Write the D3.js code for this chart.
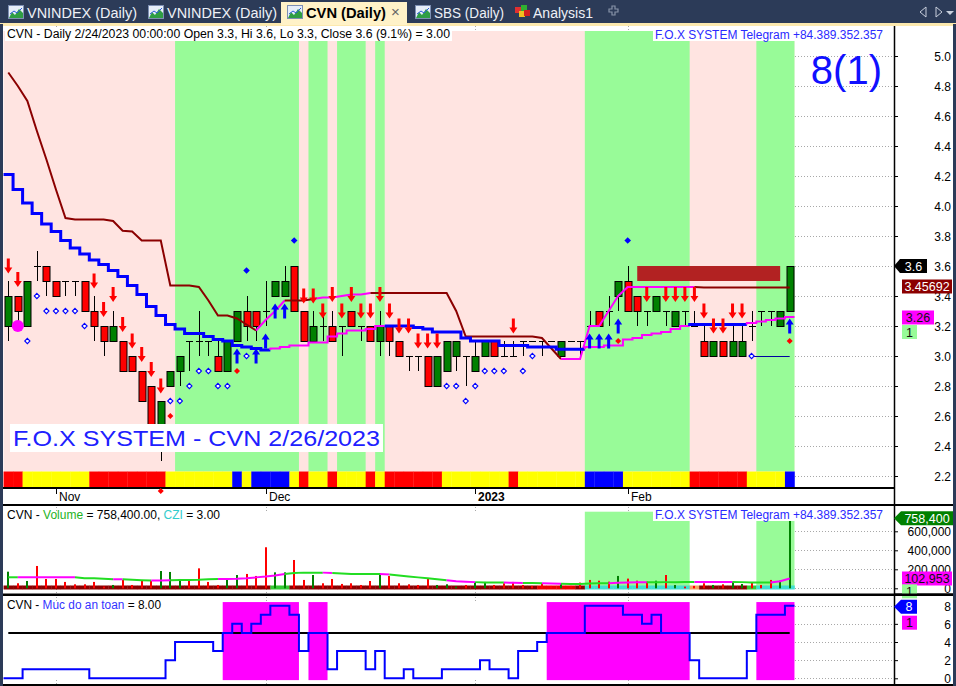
<!DOCTYPE html>
<html>
<head>
<meta charset="utf-8">
<script src="https://cdn.jsdelivr.net/npm/d3@7/dist/d3.min.js"></script>
<style>
html,body{margin:0;padding:0;background:#fff;overflow:hidden}
svg{display:block}
text{font-family:"Liberation Sans",Arial,sans-serif}
</style>
</head>
<body>
<svg id="chart" width="956" height="686"></svg>
<script>
// ---------------- DATA ----------------
const dates = [
"2022-10-25","2022-10-26","2022-10-27","2022-10-28","2022-10-31",
"2022-11-01","2022-11-02","2022-11-03","2022-11-04","2022-11-07","2022-11-08","2022-11-09","2022-11-10","2022-11-11","2022-11-14","2022-11-15","2022-11-16","2022-11-17","2022-11-18","2022-11-21","2022-11-22","2022-11-23","2022-11-24","2022-11-25","2022-11-28","2022-11-29","2022-11-30",
"2022-12-01","2022-12-02","2022-12-05","2022-12-06","2022-12-07","2022-12-08","2022-12-09","2022-12-12","2022-12-13","2022-12-14","2022-12-15","2022-12-16","2022-12-19","2022-12-20","2022-12-21","2022-12-22","2022-12-23","2022-12-26","2022-12-27","2022-12-28","2022-12-29","2022-12-30",
"2023-01-03","2023-01-04","2023-01-05","2023-01-06","2023-01-09","2023-01-10","2023-01-11","2023-01-12","2023-01-13","2023-01-16","2023-01-17","2023-01-18","2023-01-19","2023-01-27","2023-01-30","2023-01-31",
"2023-02-01","2023-02-02","2023-02-03","2023-02-06","2023-02-07","2023-02-08","2023-02-09","2023-02-10","2023-02-13","2023-02-14","2023-02-15","2023-02-16","2023-02-17","2023-02-20","2023-02-21","2023-02-22","2023-02-23","2023-02-24"];

const openP  = [3.2,3.4,3.2,3.6,3.6,3.5,3.5,3.5,3.5,3.3, 3.2,3.1,3.1,3.0,2.9,2.8,2.5,2.8,2.9,3.1, 3.1,3.1,3.0,2.9,3.1,3.3,3.3,3.3,3.4,3.4, 3.6,3.3,3.1,3.2,3.2,3.2,3.3,3.2,3.2,3.1, 3.2,3.1,3.0,3.0,3.0,2.8,2.9,3.0,3.0,2.9, 3.0,3.1,3.0,3.0,3.1,3.1,3.1,3.1,3.0,3.1, 3.1,3.2,3.3,3.3,3.4,3.5,3.4,3.3,3.3,3.3, 3.2,3.3,3.2,3.1,3.0,3.1,3.0,3.0,3.2,3.3, 3.3,3.2,3.3];
const highP  = [3.5,3.4,3.5,3.7,3.6,3.5,3.5,3.5,3.5,3.4, 3.2,3.3,3.1,3.0,2.9,2.8,2.7,2.9,3.0,3.1, 3.3,3.1,3.1,3.1,3.3,3.4,3.3,3.5,3.5,3.6, 3.6,3.3,3.3,3.3,3.3,3.2,3.3,3.2,3.2,3.3, 3.2,3.1,3.0,3.0,3.0,3.0,3.1,3.1,3.0,3.1, 3.1,3.1,3.1,3.1,3.1,3.1,3.1,3.1,3.1,3.1, 3.1,3.3,3.3,3.4,3.5,3.6,3.4,3.3,3.4,3.3, 3.3,3.3,3.3,3.2,3.1,3.1,3.2,3.2,3.3,3.3, 3.3,3.3,3.6];
const lowP   = [3.1,3.2,3.2,3.5,3.4,3.4,3.4,3.4,3.3,3.1, 3.0,3.1,2.9,2.9,2.7,2.5,2.3,2.8,2.8,2.9, 3.0,3.0,2.9,2.9,3.1,3.1,3.1,3.2,3.4,3.4, 3.3,3.1,3.1,3.1,3.1,3.0,3.2,3.1,3.1,3.0, 3.0,3.0,2.9,2.9,2.8,2.8,2.9,2.9,2.8,2.9, 3.0,3.0,3.0,3.0,3.0,3.1,3.0,3.1,3.0,3.1, 3.0,3.2,3.2,3.2,3.3,3.3,3.2,3.2,3.3,3.2, 3.2,3.2,3.2,3.0,3.0,3.0,3.0,3.0,3.1,3.2, 3.2,3.2,3.3];
const closeP = [3.4,3.3,3.5,3.6,3.5,3.4,3.5,3.5,3.3,3.2, 3.1,3.2,2.9,2.9,2.7,2.5,2.7,2.9,3.0,3.1, 3.1,3.1,2.9,3.1,3.3,3.2,3.2,3.3,3.5,3.5, 3.3,3.1,3.2,3.2,3.1,3.2,3.2,3.2,3.1,3.2, 3.1,3.0,3.0,3.0,2.8,3.0,3.1,3.1,3.0,3.0, 3.1,3.0,3.0,3.0,3.1,3.1,3.1,3.1,3.1,3.1, 3.1,3.2,3.2,3.3,3.5,3.3,3.3,3.3,3.4,3.3, 3.3,3.3,3.2,3.0,3.1,3.0,3.1,3.1,3.2,3.3, 3.3,3.3,3.6];

// fast trailing line (blue when above price, magenta when below)
const lineA = [4.21,4.11,4.02,3.95,3.88,3.83,3.77,3.72,3.68,3.64, 3.61,3.57,3.53,3.47,3.41,3.33,3.27,3.21,3.18,3.15, 3.15,3.13,3.11,3.10,3.07,3.06,3.05,3.04,3.05,3.06, 3.07,3.07,3.09,3.09,3.13,3.15,3.17,3.17,3.18,3.20, 3.20,3.20,3.20,3.19,3.18,3.16,3.16,3.16,3.12,3.10, 3.10,3.10,3.07,3.07,3.07,3.06,3.06,3.06,3.045,3.045, 3.045,3.06,3.06,3.07,3.07,3.11,3.12,3.14,3.15,3.16, 3.18,3.20,3.21,3.21,3.21,3.21,3.21,3.21,3.22,3.23, 3.24,3.25,3.26];
const lineAColor = ("b".repeat(28)+"m".repeat(12)+"b".repeat(21)+"m".repeat(11)+"b".repeat(6)+"m".repeat(5)).split("");
// slow trailing stop (dark red / magenta)
const lineB = [4.89,4.80,4.70,4.50,4.31,4.11,3.92,3.91,3.91,3.91, 3.91,3.90,3.835,3.83,3.77,3.77,3.77,3.47,3.47,3.47, 3.46,3.37,3.27,3.27,3.25,3.21,3.17,3.24,3.30,3.37, 3.37,3.37,3.38,3.39,3.39,3.40,3.41,3.41,3.42,3.42, 3.42,3.42,3.42,3.42,3.42,3.42,3.42,3.30,3.13,3.13, 3.13,3.13,3.13,3.13,3.13,3.13,3.12,3.05,2.98,2.98, 2.98,3.20,3.20,3.30,3.40,3.46,3.46,3.46,3.46,3.46, 3.46,3.46,3.46,3.457,3.457,3.457,3.457,3.457,3.457,3.457, 3.457,3.457,3.457];
const lineBColor = ("r".repeat(26)+"m".repeat(3)+"r".repeat(3)+"m".repeat(6)+"r".repeat(20)+"m".repeat(14)+"r".repeat(11)).split("");

const stripColor = ("RR"+"YYYYYYY"+"RRRRRRRR"+"YYYYYYY"+"B"+"Y"+"BBBB"+"Y"+"R"+"YY"+"R"+"YYY"+"R"+"Y"+"RRRRRR"+"YYYYYYY"+"R"+"YYYYYYY"+"BBBB"+"YYYYYYY"+"RRRRRR"+"YYYY"+"B").split("");
const greenRanges = [[18,30],[32,33],[35,37],[39,39],[61,71],[79,82]];
const volGreenRanges = [[61,71],[79,82]];

const volume = [175000,53000,77000,235000,98000,98000,67000,42000,42000,67000, 18000,35000,88000,35000,77000,77000,182000,172000,98000,88000, 210000,67000,35000,88000,140000,151000,130000,432000,168000,168000, 298000,88000,140000,53000,98000,46000,53000,35000,77000,158000, 130000,53000,42000,35000,105000,35000,42000,18000,35000,67000, 67000,35000,53000,67000,35000,25000,53000,25000,46000,25000, 60000,88000,80000,70000,130000,102000,80000,70000,80000,140000, 35000,18000,25000,53000,35000,42000,70000,46000,60000,35000, 88000,80000,758400];
const volMA = [116000,116000,116000,116000,116000,116000,116000,116000,105000,105000, 100000,95000,95000,90000,85000,81000,81000,85000,88000,88000, 90000,95000,98000,98000,100000,105000,115000,123000,135000,151000, 160000,165000,165000,165000,160000,155000,151000,151000,151000,151000, 145000,135000,125000,115000,105000,95000,85000,75000,70000,65000, 60000,60000,60000,58000,56000,55000,53000,50000,48000,46000, 46000,50000,53000,53000,58000,60000,63000,63000,63000,65000, 65000,67000,67000,67000,67000,67000,67000,65000,62000,60000, 60000,75000,102953];
const volMAColor = ("g"+"mmmmmm"+"gggg"+"m"+"ggg"+"mm"+"ggggg"+"mmmmmmm"+"gggg"+"m"+"ggggg"+"m"+"gggggg"+"mmm"+"ggg"+"mm"+"gg"+"mm"+"ggggg"+"mmmm"+"ggggg"+"mmmm"+"gggg"+"mmm").split("");
const volStrip = ("d".repeat(28)+"gg"+"d".repeat(26)+"rrrr"+"d"+"c".repeat(11)+"o"+"ddddd"+"g"+"cccc").split("");

const safety = [0,0,1,1,1,1,1,1,1,0, 0,0,0,0,0,0,0,2,4,4, 4,4,3,5,6,5,6,7,8,8, 7,3,5,5,1,3,3,3,1,3, 0,0,1,0,0,0,1,1,1,1, 2,1,1,0,3,3,4,5,5,5, 5,8,8,8,8,7,7,6,7,5, 5,5,2,0,0,0,0,0,3,7, 7,7,8];
const safetyLevel = 5;

const priceTicks = [2.2,2.4,2.6,2.8,3.0,3.2,3.4,3.6,3.8,4.0,4.2,4.4,4.6,4.8,5.0];
const volTicks = [0,200000,400000,600000];
const safetyTicks = [0,2,4,6,8];
const monthTicks = [["2022-11-01","Nov"],["2022-12-01","Dec"],["2023-01-03","2023"],["2023-02-01","Feb"]];

// markers: [bar index, price]
const downArrows = [[0,3.55],[1,3.46],[9,3.45],[10,3.26],[11,3.36],[12,3.16],[13,3.05],[14,2.96],[15,2.86],[16,2.75],
 [31,3.35],[32,3.35],[33,3.25],[34,3.36],[35,3.25],[36,3.36],[37,3.25],[38,3.25],[39,3.36],[40,3.25],[41,3.15],[42,3.15],[43,3.05],[44,3.05],[45,3.05],[53,3.15],
 [67,3.36],[69,3.36],[70,3.36],[71,3.36],[72,3.36],[73,3.25],[74,3.15],[75,3.15],[76,3.25],[77,3.25]];
const upArrows = [[24,3.05],[26,3.05],[27,3.15],[28,3.35],[29,3.35],[61,3.15],[62,3.15],[63,3.15],[64,3.25],[82,3.25]];
const hollowDiamonds = [[2,3.1],[3,3.4],[4,3.3],[5,3.3],[6,3.3],[7,3.3],[8,3.2],[17,2.7],[18,2.7],[19,2.8],[20,2.9],[21,2.9],[22,2.8],[23,2.8],[25,3.0],
 [46,2.8],[47,2.8],[48,2.7],[49,2.8],[50,2.9],[51,2.9],[52,2.9],[54,2.9],[55,3.0],[78,3.0]];
const redDots = [[17,2.6],[24,2.9],[64,3.1],[82,3.1]];
const blueDots = [[25,3.57],[30,3.77],[65,3.77]];
const magentaCircle = [[1,3.2]];
const resistBox = [66,81,3.5,3.6];
const supportLine = [78,82,3.0];
const axisRedMark = [16];

const lastClose = 3.6, lastStop = 3.45692, lastFast = 3.26, lastVol = 758400, lastVolMA = 102953, lastSafety = 8;

// ---------------- DRAW ----------------
const svg = d3.select("#chart");
const x = d3.scalePoint().domain(dates).range([8.3, 789.7]);
const bw = x.step(), hb = bw/2;
const X = i => x(dates[i]);
const yP = d3.scaleLinear().domain([2.2,5.0]).range([476,56]);
const yV = d3.scaleLinear().domain([0,600000]).range([588.3,531.3]);
const yS = d3.scaleLinear().domain([0,8]).range([678.3,605.7]);
const line = d3.line();

function runs(arr){
  const out=[]; let a=0;
  for(let i=1;i<=arr.length;i++){
    if(i===arr.length || arr[i]!==arr[a]){ out.push({c:arr[a],a:a,b:i-1}); a=i; }
  }
  return out;
}
function stepPts(vals,a,b,ys){
  const pts=[];
  if(a>0) pts.push([X(a)-hb, ys(vals[a-1])]);
  pts.push([X(a)-hb, ys(vals[a])]);
  for(let j=a;j<=b;j++){
    pts.push([X(j)+hb, ys(vals[j])]);
    if(j<b) pts.push([X(j)+hb, ys(vals[j+1])]);
  }
  return pts;
}

svg.append("rect").attr("width",956).attr("height",686).attr("fill","#fff");

// ---- tab bar ----
svg.append("rect").attr("x",0).attr("y",0).attr("width",956).attr("height",24).attr("fill","#2c3b58");
svg.append("rect").attr("x",0).attr("y",23).attr("width",956).attr("height",3).attr("fill","#fce9ae");
svg.append("rect").attr("x",281).attr("y",2).attr("width",126).attr("height",23).attr("fill","#fff2c8");
function chartIcon(x0,y0){
  svg.append("rect").attr("x",x0+0.5).attr("y",y0+0.5).attr("width",15).attr("height",13).attr("fill","#e6eef9").attr("stroke","#7d8fb3");
  svg.append("path").attr("d",`M${x0+1},${y0+13} L${x0+4},${y0+7} L${x0+7},${y0+10} L${x0+11},${y0+4} L${x0+15},${y0+8} V${y0+13} Z`).attr("fill","#2f9e44");
  svg.append("path").attr("d",`M${x0+2},${y0+9} L${x0+6},${y0+6} L${x0+9},${y0+8} L${x0+14},${y0+3}`).attr("fill","none").attr("stroke","#2a5bd7").attr("stroke-width",1);
}
const tabs=[["VNINDEX (Daily)",8,110,false],["VNINDEX (Daily)",148,110,false],["CVN (Daily)",287,80,true],["SBS (Daily)",415,70,false]];
tabs.forEach(t=>{
  chartIcon(t[1],5);
  svg.append("text").attr("x",t[1]+19).attr("y",18).attr("font-size",14)
    .attr("font-weight",t[3]?"bold":"normal").attr("fill",t[3]?"#000":"#eef1f7")
    .attr("textLength",t[2]).attr("lengthAdjust","spacingAndGlyphs").text(t[0]);
});
svg.append("text").attr("x",391).attr("y",17).attr("font-size",15).attr("fill","#666").text("×");
// analysis icon
[["#e03030",515,7],["#30b030",521,5],["#f0c020",519,11],["#d02020",524,10]].forEach(c=>{
  svg.append("rect").attr("x",c[1]).attr("y",c[2]).attr("width",6).attr("height",6).attr("fill",c[0]);
});
svg.append("text").attr("x",533).attr("y",18).attr("font-size",14).attr("fill","#eef1f7")
  .attr("textLength",60).attr("lengthAdjust","spacingAndGlyphs").text("Analysis1");
svg.append("path").attr("d","M609,9 h3 v-3 h3 v3 h3 v3 h-3 v3 h-3 v-3 h-3 Z").attr("fill","none").attr("stroke","#8793a8").attr("stroke-width",1.2);
svg.append("path").attr("d","M926,7 L920,12 L926,17 Z").attr("fill","none").attr("stroke","#c8cfdc");
svg.append("path").attr("d","M936,7 L942,12 L936,17 Z").attr("fill","none").attr("stroke","#c8cfdc");
svg.append("path").attr("d","M946,11 L954,11 L950,15 Z").attr("fill","#c8cfdc");

// frame
svg.append("rect").attr("x",0).attr("y",24).attr("width",3).attr("height",662).attr("fill","#2c3b58");
svg.append("rect").attr("x",953).attr("y",24).attr("width",3).attr("height",662).attr("fill","#2c3b58");

// ---- grid lines in white area ----
const gridG = svg.append("g").attr("stroke","#a8a8a8").attr("stroke-dasharray","1,2").attr("stroke-width",1);
priceTicks.forEach(t=>gridG.append("line").attr("x1",795).attr("x2",893).attr("y1",Math.round(yP(t))+0.5).attr("y2",Math.round(yP(t))+0.5));
volTicks.forEach(t=>gridG.append("line").attr("x1",795).attr("x2",893).attr("y1",Math.round(yV(t))+0.5).attr("y2",Math.round(yV(t))+0.5));
safetyTicks.forEach(t=>gridG.append("line").attr("x1",795).attr("x2",893).attr("y1",Math.round(yS(t))+0.5).attr("y2",Math.round(yS(t))+0.5));
monthTicks.forEach(m=>{
  const xx=Math.round(x(m[0]))+0.5;
  [[26,31],[507,512],[589,593],[597,602],[680,684]].forEach(s=>gridG.append("line").attr("x1",xx).attr("x2",xx).attr("y1",s[0]).attr("y2",s[1]));
});

// ---- main pane backgrounds ----
svg.append("rect").attr("x",X(0)-hb).attr("y",31).attr("width",X(82)-X(0)+bw).attr("height",471.5-31).attr("fill","#ffe4e1");
greenRanges.forEach(r=>svg.append("rect").attr("x",X(r[0])-hb).attr("y",31).attr("width",X(r[1])-X(r[0])+bw).attr("height",471.5-31).attr("fill","#98fb98"));
const stripMap={R:"#ff0000",Y:"#ffff00",B:"#0000ff"};
stripColor.forEach((c,i)=>svg.append("rect").attr("x",X(i)-hb).attr("y",471.5).attr("width",bw+0.3).attr("height",16).attr("fill",stripMap[c]));

// resistance box
svg.append("rect").attr("x",X(resistBox[0])).attr("y",yP(resistBox[3])).attr("width",X(resistBox[1])-X(resistBox[0]))
  .attr("height",yP(resistBox[2])-yP(resistBox[3])).attr("fill","#b22222");

// ---- candles ----
const candleG = svg.append("g");
dates.forEach((d,i)=>{
  const xc=Math.round(X(i))+0.5;
  candleG.append("line").attr("x1",xc).attr("x2",xc).attr("y1",yP(highP[i])).attr("y2",yP(lowP[i])).attr("stroke","#000").attr("stroke-width",1);
  const o=openP[i], c=closeP[i];
  if(Math.abs(o-c)<1e-9){
    candleG.append("line").attr("x1",xc-3.5).attr("x2",xc+3.5).attr("y1",Math.round(yP(c))+0.5).attr("y2",Math.round(yP(c))+0.5).attr("stroke","#000");
  } else {
    const top=Math.round(yP(Math.max(o,c))), bot=Math.round(yP(Math.min(o,c)));
    candleG.append("rect").attr("x",xc-3.5).attr("y",top+0.5).attr("width",7).attr("height",bot-top)
      .attr("fill",c>o?"#008000":"#ff0000").attr("stroke","#000").attr("stroke-width",1);
  }
});

// ---- lines ----
const colMap={b:"#0000ff",m:"#ff00ff",r:"#8b0000"};
runs(lineBColor.slice(0,82)).forEach(r=>{
  const pts=[]; for(let j=r.a;j<=r.b+1;j++) pts.push([X(j), yP(lineB[j])]);
  svg.append("path").attr("d",line(pts)).attr("fill","none").attr("stroke",colMap[r.c]).attr("stroke-width",2);
});
runs(lineAColor).forEach(r=>{
  svg.append("path").attr("d",line(stepPts(lineA,r.a,r.b,yP))).attr("fill","none").attr("stroke",colMap[r.c]).attr("stroke-width",r.c==="b"?3:2);
});
svg.append("line").attr("x1",X(supportLine[0])).attr("x2",X(supportLine[1])).attr("y1",Math.round(yP(supportLine[2]))+0.5).attr("y2",Math.round(yP(supportLine[2]))+0.5).attr("stroke","#0000a0").attr("stroke-width",1);

// ---- markers ----
const dnPath="M0,0 L-4,-6 L-1.5,-6 L-1.5,-15 L1.5,-15 L1.5,-6 L4,-6 Z";
const upPath="M0,0 L-4,6 L-1.5,6 L-1.5,15 L1.5,15 L1.5,6 L4,6 Z";
downArrows.forEach(a=>svg.append("path").attr("d",dnPath).attr("transform",`translate(${X(a[0])},${yP(a[1])})`).attr("fill","#ff0000"));
upArrows.forEach(a=>svg.append("path").attr("d",upPath).attr("transform",`translate(${X(a[0])},${yP(a[1])})`).attr("fill","#0000ff"));
hollowDiamonds.forEach(a=>svg.append("path").attr("d","M0,-2.6 L2.6,0 L0,2.6 L-2.6,0 Z").attr("transform",`translate(${X(a[0])},${yP(a[1])})`).attr("fill","#fff").attr("stroke","#0000ff").attr("stroke-width",1.1));
redDots.forEach(a=>svg.append("path").attr("d","M0,-3 L3,0 L0,3 L-3,0 Z").attr("transform",`translate(${X(a[0])},${yP(a[1])})`).attr("fill","#ff0000"));
blueDots.forEach(a=>svg.append("path").attr("d","M0,-3.3 L3.3,0 L0,3.3 L-3.3,0 Z").attr("transform",`translate(${X(a[0])},${yP(a[1])})`).attr("fill","#0000ff"));
magentaCircle.forEach(a=>svg.append("circle").attr("cx",X(a[0])).attr("cy",yP(a[1])).attr("r",6).attr("fill","#ff00ff"));

// ---- overlay texts main pane ----
svg.append("rect").attr("x",5).attr("y",27).attr("width",447).attr("height",14).attr("fill","#fff");
svg.append("text").attr("x",7).attr("y",38).attr("font-size",12).attr("fill","#000")
  .attr("textLength",443).attr("lengthAdjust","spacingAndGlyphs")
  .text("CVN - Daily 2/24/2023 00:00:00 Open 3.3, Hi 3.6, Lo 3.3, Close 3.6 (9.1%)  = 3.00");
function telegram(yTop){
  svg.append("rect").attr("x",653).attr("y",yTop).attr("width",231).attr("height",14).attr("fill","#fff");
  svg.append("text").attr("x",655).attr("y",yTop+11.5).attr("font-size",12).attr("fill","#2a2aff")
    .attr("textLength",228).attr("lengthAdjust","spacingAndGlyphs").text("F.O.X SYSTEM Telegram +84.389.352.357");
}
telegram(27);
svg.append("text").attr("x",882).attr("y",84).attr("text-anchor","end").attr("font-size",40).attr("fill","#1010ff").text("8(1)");
svg.append("rect").attr("x",10).attr("y",424).attr("width",373).attr("height",28).attr("fill","#fff");
svg.append("text").attr("x",13).attr("y",446).attr("font-size",22).attr("fill","#2020ff")
  .attr("textLength",367).attr("lengthAdjust","spacingAndGlyphs").text("F.O.X SYSTEM - CVN 2/26/2023");

// ---- x axis strip ----
svg.append("line").attr("x1",3).attr("x2",895).attr("y1",488).attr("y2",488).attr("stroke","#000").attr("stroke-width",2);
monthTicks.forEach(m=>{
  const xx=Math.round(x(m[0]))+0.5;
  svg.append("line").attr("x1",xx).attr("x2",xx).attr("y1",489).attr("y2",494).attr("stroke","#000");
  svg.append("text").attr("x",xx+2.5).attr("y",501).attr("font-size",12).attr("fill","#000")
    .attr("font-weight",m[1]==="2023"?"bold":"normal").text(m[1]);
});
axisRedMark.forEach(i=>svg.append("path").attr("d","M0,-3 L3,0 L0,3 L-3,0 Z").attr("transform",`translate(${X(i)},491)`).attr("fill","#ff0000"));
svg.append("line").attr("x1",3).attr("x2",953).attr("y1",505).attr("y2",505).attr("stroke","#000").attr("stroke-width",2);

// ---- volume pane ----
volGreenRanges.forEach(r=>svg.append("rect").attr("x",X(r[0])-hb).attr("y",511.7).attr("width",X(r[1])-X(r[0])+bw).attr("height",yV(0)-511.7).attr("fill","#98fb98"));
const vsMap={d:"#8b0000",g:"#33cc33",r:"#ee0000",c:"#40e0d0",o:"#f4a460"};
volStrip.forEach((c,i)=>svg.append("rect").attr("x",X(i)-hb).attr("y",585.5).attr("width",bw+0.3).attr("height",4).attr("fill",vsMap[c]));
volume.forEach((v,i)=>{
  svg.append("rect").attr("x",Math.round(X(i))-1).attr("y",yV(v)).attr("width",2).attr("height",yV(0)-yV(v))
    .attr("fill",closeP[i]>openP[i]?"#008000":"#ff0000");
});
const vmMap={g:"#22dd22",m:"#ff00ff"};
runs(volMAColor.slice(0,82)).forEach(r=>{
  const pts=[]; for(let j=r.a;j<=r.b+1;j++) pts.push([X(j), yV(volMA[j])]);
  svg.append("path").attr("d",line(pts)).attr("fill","none").attr("stroke",vmMap[r.c]).attr("stroke-width",2);
});
svg.append("text").attr("x",7).attr("y",518.5).attr("font-size",12).attr("fill","#000")
  .attr("textLength",213).attr("lengthAdjust","spacingAndGlyphs")
  .call(t=>{
    t.append("tspan").text("CVN - ");
    t.append("tspan").attr("fill","#1db31d").text("Volume");
    t.append("tspan").text(" = 758,400.00, ");
    t.append("tspan").attr("fill","#33cccc").text("CZI");
    t.append("tspan").text(" = 3.00");
  });
telegram(507);
svg.append("line").attr("x1",3).attr("x2",953).attr("y1",594.8).attr("y2",594.8).attr("stroke","#000").attr("stroke-width",2.5);

// ---- safety pane ----
runs(safety.map(v=>v>=safetyLevel?"on":"off")).filter(r=>r.c==="on").forEach(r=>{
  svg.append("rect").attr("x",X(r.a)-hb).attr("y",yS(8.4)).attr("width",X(r.b)-X(r.a)+bw).attr("height",yS(-0.2)-yS(8.4)).attr("fill","#ff00ff");
});
svg.append("line").attr("x1",X(0)).attr("x2",X(82)).attr("y1",yS(safetyLevel)).attr("y2",yS(safetyLevel)).attr("stroke","#000").attr("stroke-width",2);
svg.append("path").attr("d",line(stepPts(safety,0,82,yS))).attr("fill","none").attr("stroke","#0000ff").attr("stroke-width",2);
svg.append("text").attr("x",7).attr("y",609).attr("font-size",12).attr("fill","#000")
  .attr("textLength",154).attr("lengthAdjust","spacingAndGlyphs")
  .call(t=>{
    t.append("tspan").text("CVN - ");
    t.append("tspan").attr("fill","#3333ff").text("Muc do an toan");
    t.append("tspan").text(" = 8.00");
  });
svg.append("line").attr("x1",3).attr("x2",953).attr("y1",685).attr("y2",685).attr("stroke","#000").attr("stroke-width",2);

// ---- right axes ----
svg.append("line").attr("x1",894.5).attr("x2",894.5).attr("y1",26).attr("y2",686).attr("stroke","#000").attr("stroke-width",1.5);
function rightAxis(scale,ticks,fmt){
  const g=svg.append("g").attr("transform","translate(895,0)")
    .call(d3.axisRight(scale).tickValues(ticks).tickFormat(fmt).tickSize(3).tickPadding(0));
  g.attr("font-family","'Liberation Sans',Arial,sans-serif").attr("font-size",12);
  g.select(".domain").remove();
  g.selectAll("line").attr("stroke","#000");
  g.selectAll("text").attr("x",56).attr("text-anchor","end").attr("fill","#000").attr("dy","0.36em");
}
rightAxis(yP,priceTicks,d3.format(".1f"));
rightAxis(yV,volTicks,d3.format(","));
rightAxis(yS,safetyTicks,d3.format("d"));

// ---- value tags ----
function tag(yc,x1,x2,fill,txt,txtFill,pointed){
  const h=7;
  const d = pointed ? `M894,${yc} L${x1},${yc-h} H${x2} V${yc+h} H${x1} Z` : `M${x1},${yc-h} H${x2} V${yc+h} H${x1} Z`;
  svg.append("path").attr("d",d).attr("fill",fill);
  svg.append("text").attr("x",(x1+x2)/2).attr("y",yc+4.5).attr("text-anchor","middle").attr("font-size",12.5).attr("fill",txtFill).text(txt);
}
tag(yP(lastClose),900,927,"#000",d3.format(".1f")(lastClose),"#fff",true);
tag(yP(lastStop)-1,902,952,"#8b0000",String(lastStop),"#fff",false);
tag(yP(lastFast)+0.5,902,934,"#ff00ff",String(lastFast),"#111",false);
tag(yP(lastFast)+15,902,917,"#98fb98","1","#111",false);
tag(yV(lastVol)+2,901,953,"#008000",d3.format(",")(lastVol),"#fff",true);
tag(yV(lastVolMA)+0,902,952,"#ff00ff",d3.format(",")(lastVolMA),"#111",false);
tag(yV(0)+3,902,917,"#98fb98","1","#111",false);
svg.append("line").attr("x1",895).attr("x2",953).attr("y1",594.8).attr("y2",594.8).attr("stroke","#000").attr("stroke-width",2.5);
tag(yS(lastSafety)+1,901,917,"#0000ff",String(lastSafety),"#fff",true);
tag(yS(lastSafety)+17,902,917,"#ff00ff","1","#111",false);
svg.append("line").attr("x1",3).attr("x2",953).attr("y1",685).attr("y2",685).attr("stroke","#000").attr("stroke-width",2);
</script>
</body>
</html>
